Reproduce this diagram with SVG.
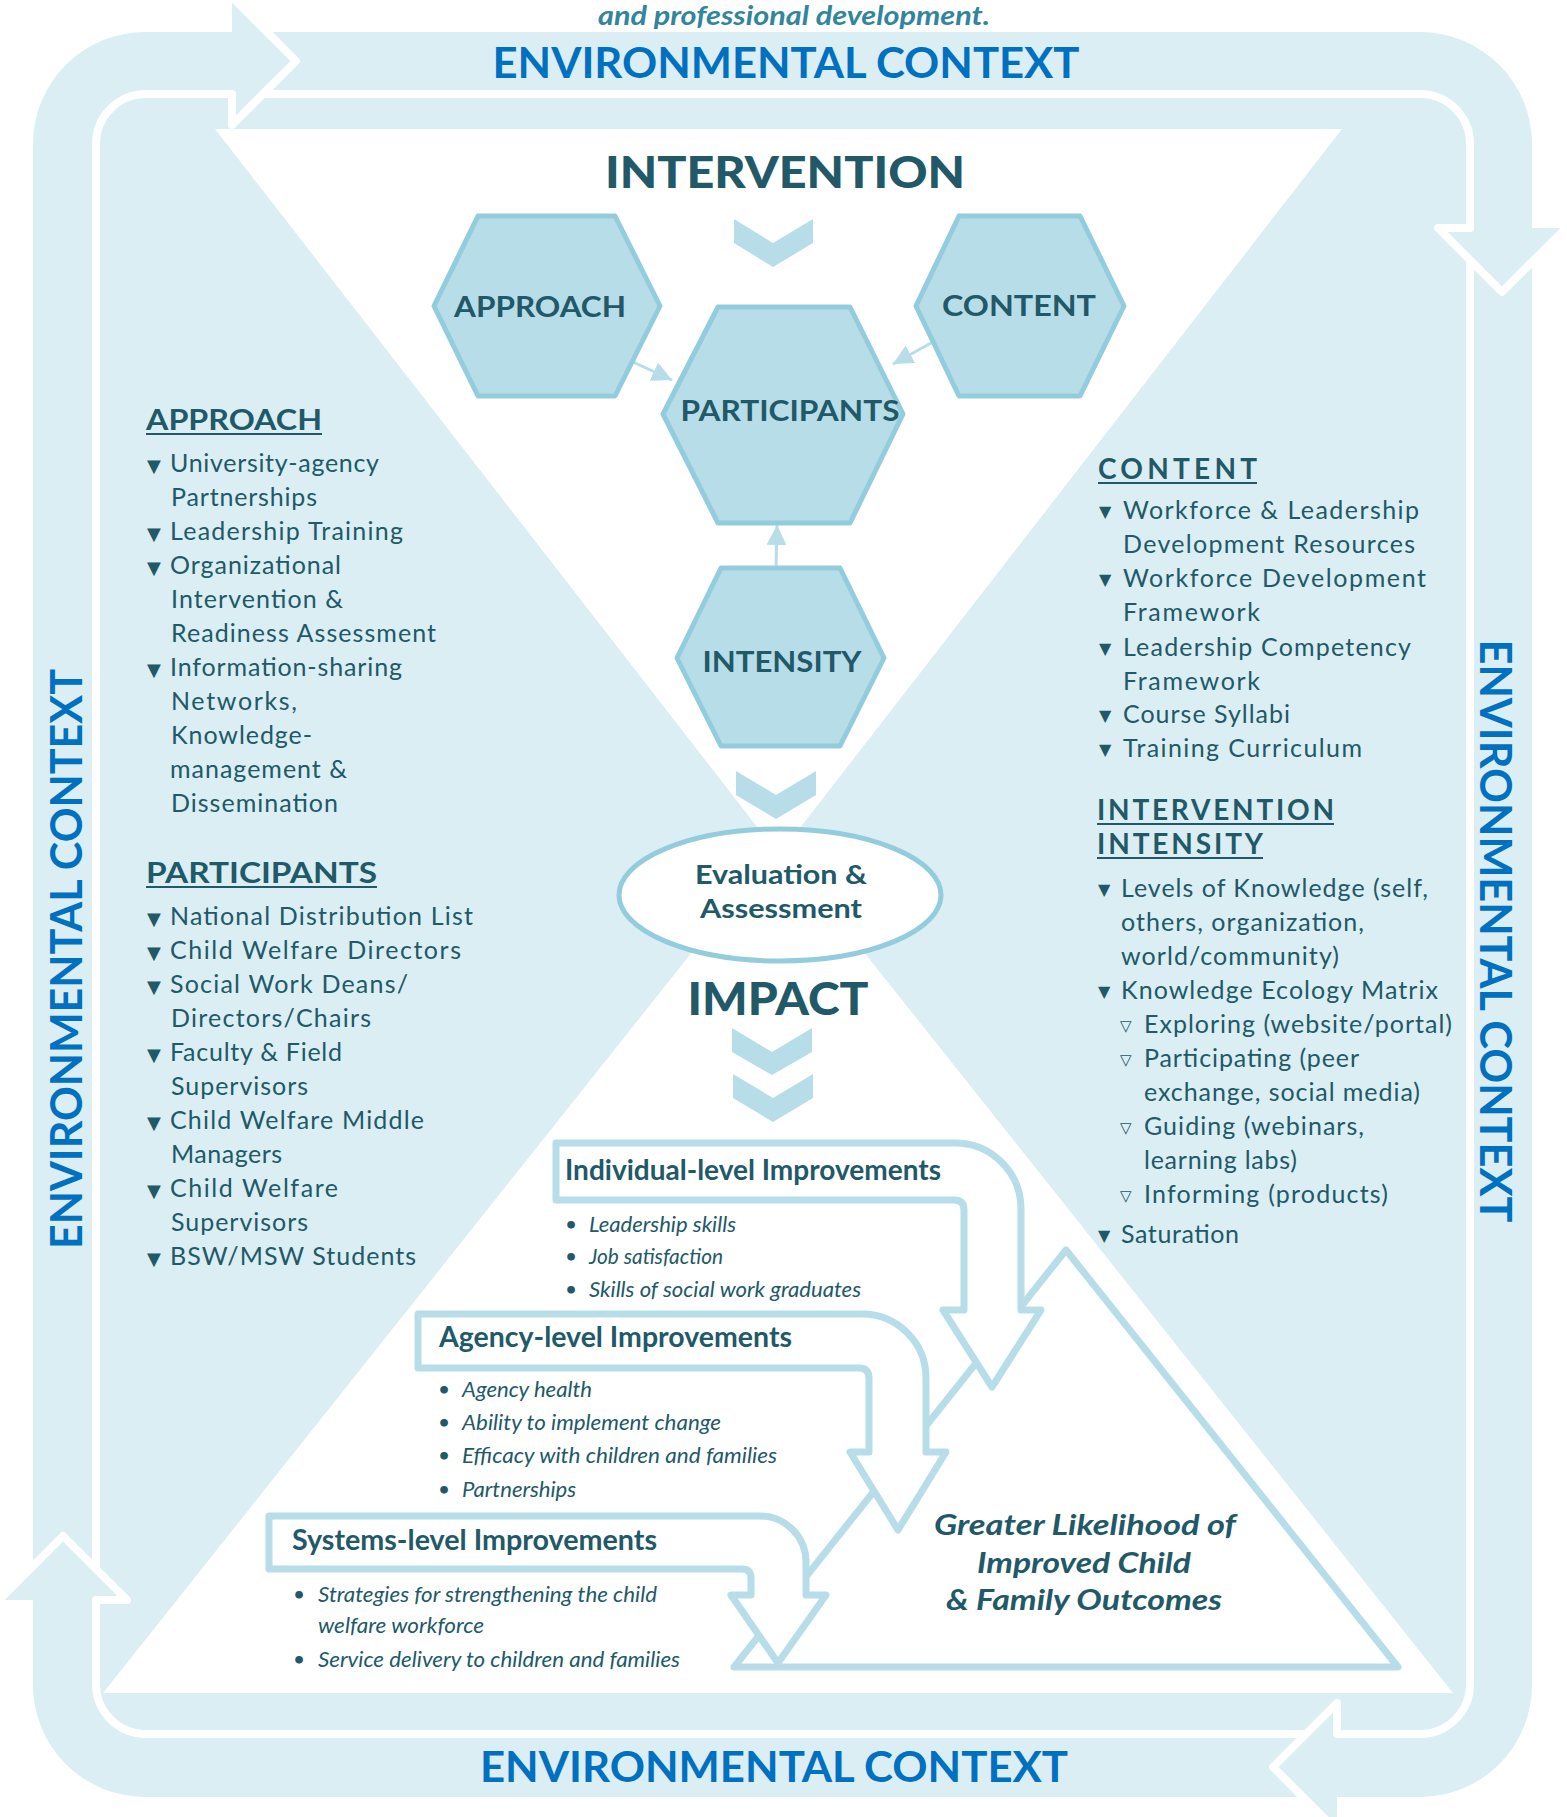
<svg xmlns="http://www.w3.org/2000/svg" width="1567" height="1817" viewBox="0 0 1567 1817">
<defs>
<style>
.t{font-family:Lato,"Open Sans","Liberation Sans",sans-serif;fill:#215968}
.li{font-size:25px}
.hd{font-size:28px;font-weight:bold}
.env{font-family:Lato,"Liberation Sans",sans-serif;font-weight:bold;font-size:42px;fill:#0070C0}
.hex{fill:#B7DDE8;stroke:#93CDDD;stroke-width:5;stroke-linejoin:round}
.hl{font-size:29px;font-weight:bold;text-anchor:middle}
.chev{fill:#B7DDE8}
.conn{stroke:#B7DDE8;stroke-width:3;fill:none}
.imp{fill:#fff;stroke:#B7DDE8;stroke-width:7;stroke-linejoin:round}
.ih{font-size:29px;font-weight:bold}
.it{font-style:italic;font-size:22px}
.bt{font-family:"DejaVu Sans",sans-serif;fill:#215968}
.dot{font-family:"DejaVu Sans",sans-serif;fill:#215968;font-size:22px;font-weight:bold}
.ul{stroke:#215968;stroke-width:2}
.ah{fill:#DAEEF3}
.ahs{fill:none;stroke:#fff;stroke-width:8;stroke-linejoin:round;stroke-linecap:round}
</style>
<marker id="arr" markerUnits="userSpaceOnUse" markerWidth="22" markerHeight="20" refX="20" refY="10" orient="auto"><path d="M0,0 L20,10 L0,20 Z" fill="#B7DDE8"/></marker>
</defs>

<g id="background">
<rect x="33" y="32" width="1499" height="1765" rx="112" fill="#DAEEF3"/>
<rect x="96" y="94" width="1374" height="1640" rx="50" fill="none" stroke="#fff" stroke-width="8"/>
<polygon points="232,-3 296,61 232,125" class="ah"/>
<path d="M232,94 L232,125 L296,61 L232,-3" class="ahs"/>
<polygon points="1438,228 1502,292 1566,228" class="ah"/>
<path d="M1470,228 L1438,228 L1502,292 L1566,228" class="ahs"/>
<polygon points="1337,1703 1273,1767 1337,1831" class="ah"/>
<path d="M1337,1734 L1337,1703 L1273,1767 L1337,1831" class="ahs"/>
<polygon points="127,1600 63,1536 -1,1600" class="ah"/>
<path d="M96,1600 L127,1600 L63,1536 L-1,1600" class="ahs"/>
<polygon points="215,129 1342,129 779,855" fill="#fff"/>
<polygon points="103,1693 1453,1693 778,844" fill="#fff"/>
</g>

<g id="env-labels">
<text class="env" x="786" y="78" text-anchor="middle" textLength="587" lengthAdjust="spacingAndGlyphs">ENVIRONMENTAL CONTEXT</text>
<text class="env" x="774" y="1782" text-anchor="middle" textLength="588" lengthAdjust="spacingAndGlyphs">ENVIRONMENTAL CONTEXT</text>
<text class="env" transform="translate(1480,931) rotate(90)" text-anchor="middle" textLength="583" lengthAdjust="spacingAndGlyphs" style="font-size:44px">ENVIRONMENTAL CONTEXT</text>
<text class="env" transform="translate(82,959) rotate(-90)" text-anchor="middle" textLength="580" lengthAdjust="spacingAndGlyphs" style="font-size:44px">ENVIRONMENTAL CONTEXT</text>
<text x="794" y="25" text-anchor="middle" textLength="392" lengthAdjust="spacingAndGlyphs" style="font-family:Lato,'Liberation Sans',sans-serif;font-style:italic;font-weight:bold;font-size:26px;fill:#31859C">and professional development.</text>
</g>

<g id="titles" class="t">
<text x="785" y="188" text-anchor="middle" textLength="360" lengthAdjust="spacingAndGlyphs" style="font-size:43px;font-weight:900">INTERVENTION</text>
<text x="778" y="1015" text-anchor="middle" textLength="181" lengthAdjust="spacingAndGlyphs" style="font-size:46px;font-weight:900">IMPACT</text>
</g>

<g id="chevrons" class="chev">
<polygon points="734,219 773,243 813,219 813,243 773,267 734,243"/>
<polygon points="736,771 776,795 816,771 816,795 776,819 736,795"/>
<polygon points="732,1028 772,1052 812,1028 812,1052 772,1075 732,1052"/>
<polygon points="733,1074 773,1098 813,1074 813,1098 773,1122 733,1098"/>
</g>

<g id="connectors" class="conn">
<line x1="633" y1="362" x2="672" y2="380" marker-end="url(#arr)"/>
<line x1="931" y1="343" x2="893" y2="364" marker-end="url(#arr)"/>
<line x1="776" y1="568" x2="777" y2="525" marker-end="url(#arr)"/>
</g>

<g id="node-approach">
<polygon class="hex" points="478,216 615,216 660,306 615,396 478,396 434,306"/>
<text class="t hl" x="540" y="317" textLength="172" lengthAdjust="spacingAndGlyphs">APPROACH</text>
</g>
<g id="node-content">
<polygon class="hex" points="959,216 1080,216 1124,306 1080,396 959,396 916,306"/>
<text class="t hl" x="1019" y="316" textLength="154" lengthAdjust="spacingAndGlyphs">CONTENT</text>
</g>
<g id="node-participants">
<polygon class="hex" points="718,307 850,307 903,414 850,523 718,523 663,414"/>
<text class="t hl" x="790" y="421" textLength="219" lengthAdjust="spacingAndGlyphs">PARTICIPANTS</text>
</g>
<g id="node-intensity">
<polygon class="hex" points="721,568 840,568 884,658 840,746 721,746 677,658"/>
<text class="t hl" x="782" y="672" textLength="159" lengthAdjust="spacingAndGlyphs">INTENSITY</text>
</g>

<g id="node-evaluation">
<ellipse cx="780" cy="895" rx="161" ry="66" fill="#fff" stroke="#93CDDD" stroke-width="5"/>
<text class="t" x="781" y="884" text-anchor="middle" textLength="172" lengthAdjust="spacingAndGlyphs" style="font-size:26px;font-weight:bold">Evaluation &amp;</text>
<text class="t" x="781" y="918" text-anchor="middle" textLength="162" lengthAdjust="spacingAndGlyphs" style="font-size:26px;font-weight:bold">Assessment</text>
</g>

<g id="list-approach">
<text class="t hd" x="146" y="430" textLength="176" lengthAdjust="spacingAndGlyphs">APPROACH</text>
<line class="ul" x1="146" y1="434" x2="322" y2="434"/>
<g class="bt" style="font-size:18px">
<text x="147" y="472">▼</text><text x="147" y="540">▼</text><text x="147" y="574">▼</text><text x="147" y="676">▼</text>
</g>
<g class="t li">
<text x="170" y="472" textLength="209">University-agency</text>
<text x="171" y="506" textLength="146">Partnerships</text>
<text x="170" y="540" textLength="233">Leadership Training</text>
<text x="170" y="574" textLength="171">Organizational</text>
<text x="171" y="608" textLength="172">Intervention &amp;</text>
<text x="171" y="642" textLength="265">Readiness Assessment</text>
<text x="170" y="676" textLength="232">Information-sharing</text>
<text x="171" y="710" textLength="126">Networks,</text>
<text x="171" y="744" textLength="141">Knowledge-</text>
<text x="170" y="778" textLength="177">management &amp;</text>
<text x="171" y="812" textLength="167">Dissemination</text>
</g>
</g>

<g id="list-participants">
<text class="t hd" x="146" y="883" textLength="231" lengthAdjust="spacingAndGlyphs">PARTICIPANTS</text>
<line class="ul" x1="146" y1="887" x2="377" y2="887"/>
<g class="bt" style="font-size:18px">
<text x="147" y="925">▼</text><text x="147" y="959">▼</text><text x="147" y="993">▼</text><text x="147" y="1061">▼</text><text x="147" y="1129">▼</text><text x="147" y="1197">▼</text><text x="147" y="1265">▼</text>
</g>
<g class="t li">
<text x="170" y="925" textLength="303">National Distribution List</text>
<text x="170" y="959" textLength="291">Child Welfare Directors</text>
<text x="170" y="993" textLength="238">Social Work Deans/</text>
<text x="171" y="1027" textLength="200">Directors/Chairs</text>
<text x="170" y="1061" textLength="172">Faculty &amp; Field</text>
<text x="171" y="1095" textLength="137">Supervisors</text>
<text x="170" y="1129" textLength="254">Child Welfare Middle</text>
<text x="171" y="1163" textLength="111">Managers</text>
<text x="170" y="1197" textLength="168">Child Welfare</text>
<text x="171" y="1231" textLength="137">Supervisors</text>
<text x="170" y="1265" textLength="246">BSW/MSW Students</text>
</g>
</g>

<g id="list-content">
<text class="t hd" x="1098" y="479" textLength="159">CONTENT</text>
<line class="ul" x1="1098" y1="483" x2="1257" y2="483"/>
<g class="bt" style="font-size:16px">
<text x="1099" y="517">▼</text><text x="1099" y="585">▼</text><text x="1099" y="654">▼</text><text x="1099" y="721">▼</text><text x="1099" y="755">▼</text>
</g>
<g class="t li">
<text x="1123" y="519" textLength="296">Workforce &amp; Leadership</text>
<text x="1123" y="553" textLength="292">Development Resources</text>
<text x="1123" y="587" textLength="303">Workforce Development</text>
<text x="1123" y="621" textLength="137">Framework</text>
<text x="1123" y="656" textLength="288">Leadership Competency</text>
<text x="1123" y="690" textLength="137">Framework</text>
<text x="1123" y="723" textLength="167">Course Syllabi</text>
<text x="1123" y="757" textLength="239">Training Curriculum</text>
</g>
</g>

<g id="list-intensity">
<text class="t hd" x="1097" y="820" textLength="237">INTERVENTION</text>
<text class="t hd" x="1097" y="854" textLength="166">INTENSITY</text>
<line class="ul" x1="1097" y1="824" x2="1334" y2="824"/>
<line class="ul" x1="1097" y1="858" x2="1263" y2="858"/>
<g class="bt" style="font-size:16px">
<text x="1098" y="895">▼</text><text x="1098" y="997">▼</text><text x="1098" y="1241">▼</text>
</g>
<g class="bt" style="font-size:15px">
<text x="1120" y="1031">▽</text><text x="1120" y="1065">▽</text><text x="1120" y="1133">▽</text><text x="1120" y="1201">▽</text>
</g>
<g class="t li">
<text x="1121" y="897" textLength="307">Levels of Knowledge (self,</text>
<text x="1121" y="931" textLength="243">others, organization,</text>
<text x="1121" y="965" textLength="218">world/community)</text>
<text x="1121" y="999" textLength="317">Knowledge Ecology Matrix</text>
<text x="1144" y="1033" textLength="308">Exploring (website/portal)</text>
<text x="1144" y="1067" textLength="215">Participating (peer</text>
<text x="1144" y="1101" textLength="276">exchange, social media)</text>
<text x="1144" y="1135" textLength="220">Guiding (webinars,</text>
<text x="1144" y="1169" textLength="153">learning labs)</text>
<text x="1144" y="1203" textLength="244">Informing (products)</text>
<text x="1121" y="1243" textLength="118">Saturation</text>
</g>
</g>

<g id="node-outcomes">
<polygon class="imp" points="1066,1250 1398,1667 734,1667" stroke-width="8"/>
<g class="t" style="font-size:29px;font-weight:bold;font-style:italic" text-anchor="middle">
<text x="1085" y="1535" textLength="302" lengthAdjust="spacingAndGlyphs">Greater Likelihood of</text>
<text x="1084" y="1573" textLength="214" lengthAdjust="spacingAndGlyphs">Improved Child</text>
<text x="1084" y="1610" textLength="276" lengthAdjust="spacingAndGlyphs">&amp; Family Outcomes</text>
</g>
</g>

<g id="node-individual">
<path class="imp" d="M556,1143 L955,1143 A66,66 0 0 1 1021,1209 L1021,1310 L1041,1310 L992,1387 L943,1310 L964,1310 L964,1210 Q964,1200 954,1200 L556,1200 Z"/>
<text class="t ih" x="565" y="1180" textLength="376" lengthAdjust="spacingAndGlyphs">Individual-level Improvements</text>
<g class="dot"><text x="564" y="1233">•</text><text x="564" y="1265">•</text><text x="564" y="1298">•</text></g>
<g class="t it">
<text x="589" y="1232" textLength="147" lengthAdjust="spacingAndGlyphs">Leadership skills</text>
<text x="589" y="1264" textLength="134" lengthAdjust="spacingAndGlyphs">Job satisfaction</text>
<text x="589" y="1297" textLength="272" lengthAdjust="spacingAndGlyphs">Skills of social work graduates</text>
</g>
</g>

<g id="node-agency">
<path class="imp" d="M418,1314 L862,1314 A64,64 0 0 1 926,1378 L926,1452 L946,1452 L898,1530 L850,1452 L869,1452 L869,1378 Q869,1368 859,1368 L418,1368 Z"/>
<text class="t ih" x="439" y="1347" textLength="353" lengthAdjust="spacingAndGlyphs">Agency-level Improvements</text>
<g class="dot"><text x="437" y="1398">•</text><text x="437" y="1431">•</text><text x="437" y="1464">•</text><text x="437" y="1498">•</text></g>
<g class="t it">
<text x="462" y="1397" textLength="130" lengthAdjust="spacingAndGlyphs">Agency health</text>
<text x="462" y="1430" textLength="259" lengthAdjust="spacingAndGlyphs">Ability to implement change</text>
<text x="462" y="1463" textLength="315" lengthAdjust="spacingAndGlyphs">Efficacy with children and families</text>
<text x="462" y="1497" textLength="114" lengthAdjust="spacingAndGlyphs">Partnerships</text>
</g>
</g>

<g id="node-systems">
<path class="imp" d="M269,1516 L760,1516 A46,46 0 0 1 806,1562 L806,1595 L826,1595 L778,1663 L731,1595 L751,1595 L751,1578 Q751,1569 742,1569 L269,1569 Z"/>
<text class="t ih" x="292" y="1550" textLength="365" lengthAdjust="spacingAndGlyphs">Systems-level Improvements</text>
<g class="dot"><text x="292" y="1603">•</text><text x="292" y="1668">•</text></g>
<g class="t it">
<text x="318" y="1602" textLength="339" lengthAdjust="spacingAndGlyphs">Strategies for strengthening the child</text>
<text x="318" y="1633" textLength="166" lengthAdjust="spacingAndGlyphs">welfare workforce</text>
<text x="318" y="1667" textLength="362" lengthAdjust="spacingAndGlyphs">Service delivery to children and families</text>
</g>
</g>
</svg>
